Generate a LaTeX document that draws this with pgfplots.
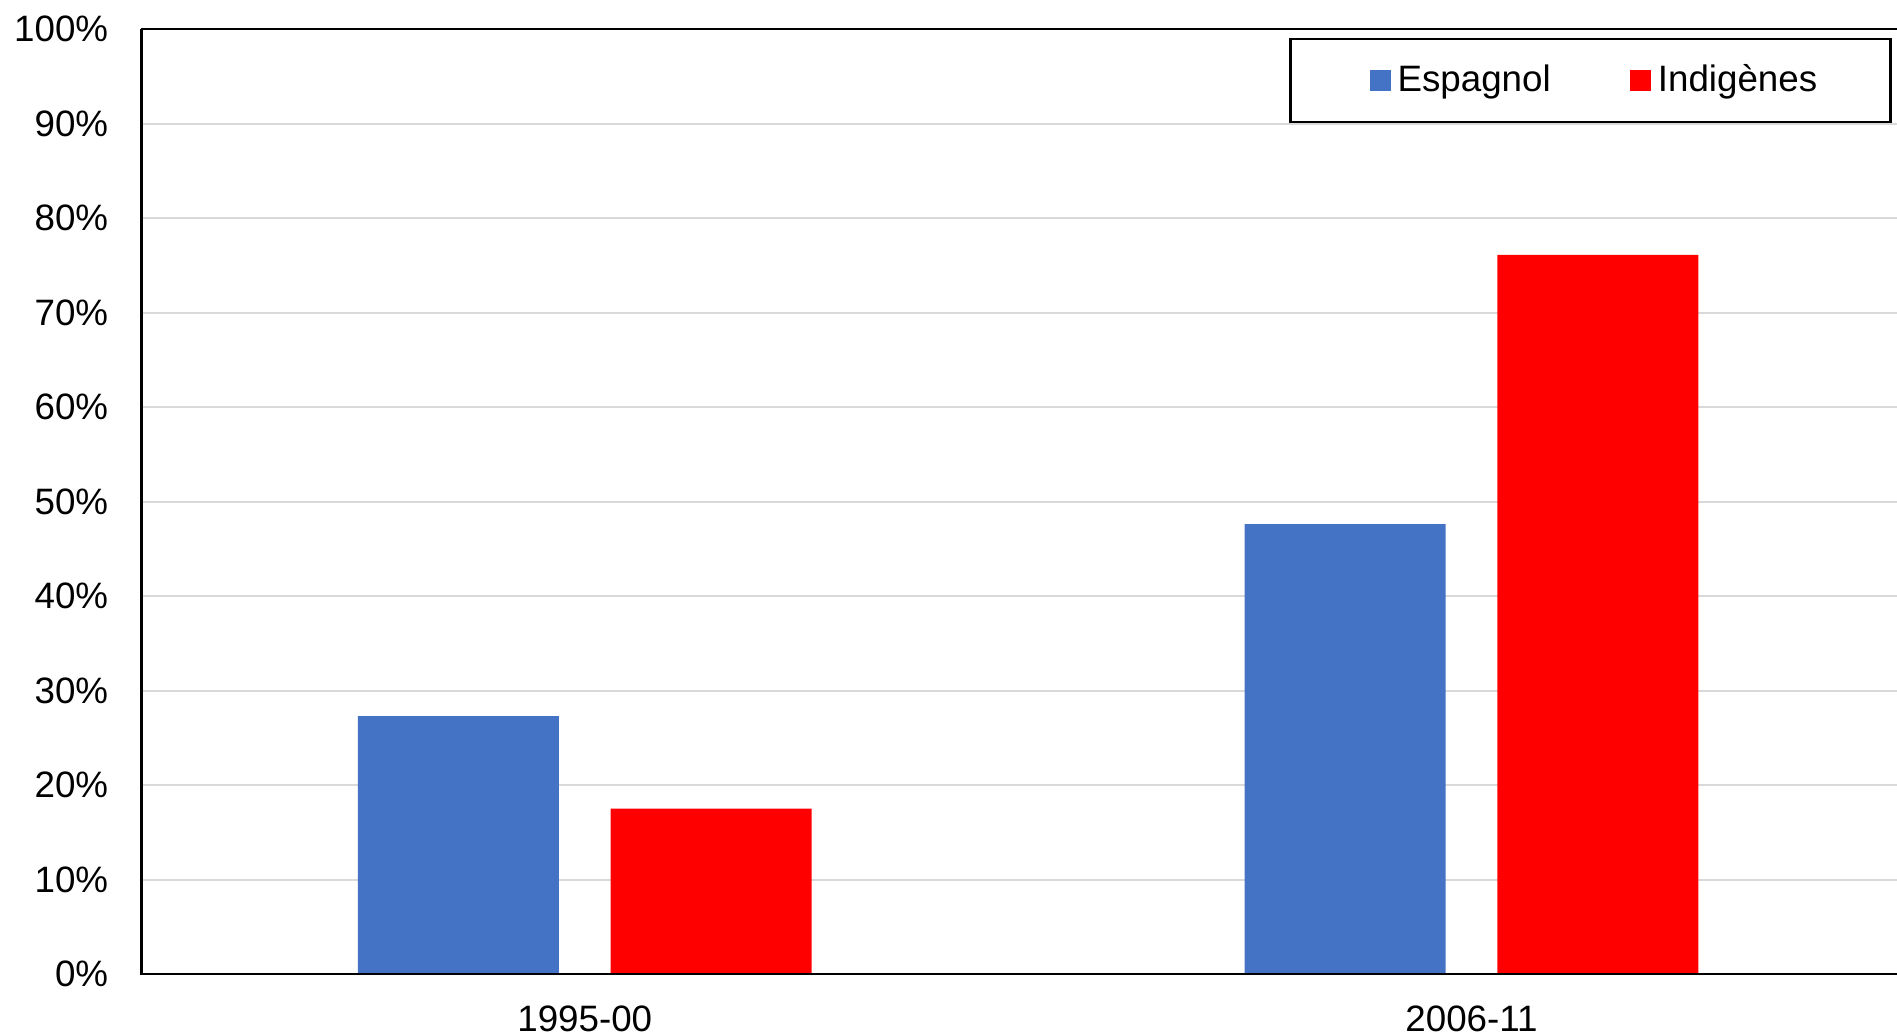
\documentclass[border=0pt]{standalone}
\usepackage{fontspec}
\setmainfont{Liberation Sans}
\usepackage{pgfplots}
\pgfplotsset{compat=1.18}
\definecolor{cblue}{HTML}{4472C4}
\definecolor{cred}{HTML}{FF0000}
\definecolor{cgrid}{HTML}{D9D9D9}
\begin{document}
\fontsize{10.5}{12.6}\selectfont
\begin{tikzpicture}
\begin{axis}[
  scale only axis, width=506.7pt, height=270pt,
  xmin=-0.5, xmax=1.5, ymin=0, ymax=100,
  xtick={0,1}, xticklabels={1995-00,2006-11},
  ytick={0,10,...,100},
  yticklabel={\pgfmathprintnumber{\tick}\%},
  /pgf/number format/assume math mode=true,
  every tick label/.append style={font=\fontsize{10.5}{12.6}\selectfont},
  yticklabel style={inner sep=0pt, xshift=-9.3pt},
  xticklabel style={inner sep=0pt, yshift=-9pt},
  major tick length=0pt,
  ymajorgrids, grid style={cgrid, line width=0.6pt},
  axis line style={draw=none},
  clip=false,
  ybar=14.8pt, bar width=57.4pt,
  legend style={at={(0.9872,0.991)}, anchor=north east, draw=black, line width=0.8pt,
    legend columns=2, inner xsep=19pt, inner ysep=5.2pt,
    font=\fontsize{10.5}{12.6}\selectfont,
    /tikz/every even column/.append style={column sep=17pt},
    nodes={inner sep=2pt}},
  legend image code/.code={\path (-3.7pt,0pt); \fill[#1] (0pt,-2.95pt) rectangle (5.9pt,2.95pt);},
]
\addplot[fill=cblue, draw=none] coordinates {(0,27.3) (1,47.6)};
\addlegendentry{Espagnol}
\addplot[fill=cred, draw=none] coordinates {(0,17.5) (1,76.1)};
\addlegendentry{Indigènes}
\draw[black, line width=0.7pt] (rel axis cs:0,1) -- (rel axis cs:0,0) -- (rel axis cs:1,0);
\draw[black, line width=0.7pt] (rel axis cs:0,1) -- (rel axis cs:1,1);
\end{axis}
\pgfresetboundingbox
\path (current axis.south west) ++(-40.4pt,-17.1pt) rectangle ++(542pt,295.4pt);
\end{tikzpicture}
\end{document}
